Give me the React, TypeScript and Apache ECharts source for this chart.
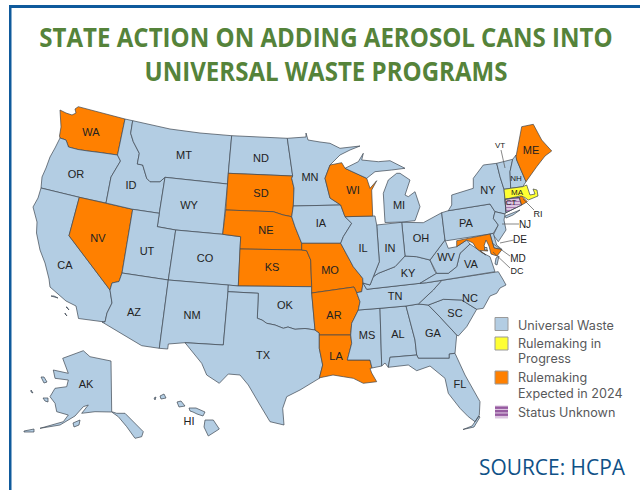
import React, { useEffect, useRef } from "react";
import * as echarts from "echarts";

const titleLines = ["STATE ACTION ON ADDING AEROSOL CANS INTO", "UNIVERSAL WASTE PROGRAMS"];
const source = "SOURCE: HCPA";
const universalWaste = ["OR","CA","ID","MT","WY","UT","CO","AZ","NM","ND","OK","TX","MN","IA","MS","AL","GA","SC","NC","FL","TN","KY","VA","WV","OH","IN","IL","MI","PA","NY","VT","NH","NJ","DE","DC","AK","HI"];
const rulemakingInProgress = ["MA"];
const rulemakingExpected = ["WA","NV","SD","NE","KS","MO","AR","LA","WI","ME","MD","RI"];
const statusUnknown = ["CT"];
const legendNames = ["Universal Waste", "Rulemaking in\nProgress", "Rulemaking\nExpected in 2024", "Status Unknown"];

const shapes: Record<string, number[][][]> = {
  WA: [[[60,110],[66,113],[72,115],[76,113],[75,109],[78.3,106.7],[125,119],[117.5,155],[100,152.5],[88,151],[78,149.5],[68.5,147],[66,140],[60,138],[59.5,136],[61,127]]],
  OR: [[[60,138],[66,140],[68.5,147],[78,149.5],[88,151],[100,152.5],[117.5,155],[120.5,161],[111,177],[106,203],[79.3,197.3],[41,188],[42,177],[46,168],[50,157],[55,148]]],
  CA: [[[41,188],[79.3,197.3],[69,235.7],[110,290],[112,303],[107,313],[105,322],[78.5,318.5],[76,306],[70,303],[66,301],[58,294],[50,287],[49,279],[45,263],[40,250],[36.5,233],[37,222],[33,207],[38,198]],[[51,296],[58,298],[54,296]],[[66,307],[69,310],[67,307]],[[65,313],[67,316],[65,314]]],
  NV: [[[79.3,197.3],[132.7,209.3],[122,273],[119,281.5],[112,283],[110,290],[69,235.7]]],
  ID: [[[125,119],[132.7,120.7],[130.7,133.3],[133.3,141.7],[139.3,153.3],[137.3,164],[142.7,165],[146.7,178.3],[150,181.7],[160,181.7],[165,177.3],[159.3,213.3],[132.7,209.3],[106,203],[111,177],[120.5,161],[117.5,155]]],
  MT: [[[132.7,120.7],[170,129],[200,133],[231.7,135.7],[228.3,173.3],[227.5,184],[165,177.3],[160,181.7],[150,181.7],[146.7,178.3],[142.7,165],[137.3,164],[139.3,153.3],[133.3,141.7],[130.7,133.3]]],
  WY: [[[165,177.3],[227.5,184],[222.7,234.3],[175.7,230],[157.3,226.7],[159.3,213.3]]],
  UT: [[[132.7,209.3],[159.3,213.3],[157.3,226.7],[175.7,230],[168.3,280],[122,273]]],
  CO: [[[175.7,230],[222.7,234.3],[240.7,236.7],[238.3,286],[168.3,280]]],
  AZ: [[[122,273],[168.3,280],[159.3,348.3],[141.7,345.7],[102,322],[105,322],[107,313],[112,303],[110,290],[112,283],[119,281.5]]],
  NM: [[[168.3,280],[228.3,285],[228,291.7],[223.3,345],[185,342.7],[168.3,344],[167.7,349],[159.3,348.3]]],
  ND: [[[231.7,135.7],[287.3,138.3],[292.7,176],[228.3,173.3]]],
  SD: [[[228.3,173.3],[292.7,176],[291.7,178.3],[294,188],[293.3,206],[291.7,216.7],[283.3,215],[273.3,211.7],[225.7,210]]],
  NE: [[[225.7,210],[273.3,211.7],[283.3,215],[291.7,216.7],[295,226.7],[301.7,243.3],[301.7,250],[240,249],[240.7,236.7],[222.7,234.3]]],
  KS: [[[240,249],[301.7,250],[306.7,250.7],[310.7,260],[311.7,286.7],[238.3,286]]],
  OK: [[[228.3,285],[238.3,286],[311.7,286.7],[311.7,293],[315,330],[305,328.5],[295,329.3],[288,327],[283.3,328.3],[275,325],[266.7,323.3],[262,320],[257.3,318.3],[258.3,293.3],[228,291.7]]],
  TX: [[[228,291.7],[258.3,293.3],[257.3,318.3],[262,320],[266.7,323.3],[275,325],[283.3,328.3],[288,327],[295,329.3],[305,328.5],[315,330],[319.3,333],[319.3,348.3],[322.7,365],[319.3,378.3],[300,390],[286.7,396.7],[282.7,408.3],[284,425],[270,421.7],[260,405],[248.3,385],[240,375],[228.3,374],[219.3,383.3],[206.7,375],[201.7,363.3],[185,342.7],[223.3,345]]],
  MN: [[[287.3,138.3],[306,137],[306,133],[308,140],[320,142],[330,143.3],[340,148.3],[360,146],[350,150],[340,155],[330,165],[325,178.3],[330,198],[340.7,205],[293.3,206],[294,188],[291.7,178.3],[292.7,176]]],
  IA: [[[293.3,206],[340.7,205],[345,216.7],[351.7,223.3],[343.3,236.7],[340.7,243.3],[301.7,243.3],[295,226.7],[291.7,216.7]]],
  MO: [[[301.7,243.3],[340.7,243.3],[353.3,266.7],[362.7,278.3],[363,283],[361.7,291.7],[356.7,292.7],[354,287],[311.7,293],[311.7,286.7],[310.7,260],[306.7,250.7],[301.7,250]]],
  AR: [[[311.7,293],[354,287],[356.7,292.7],[360,301.7],[358.3,310],[351.7,323.3],[350.7,335],[319.3,335],[319.3,333],[315,330]]],
  LA: [[[319.3,335],[350.7,335],[351.7,343.3],[347.3,360],[370,360],[372,368],[370,368.5],[371.7,373],[376.7,381.7],[363.3,383.3],[353.3,378.3],[343.3,376.7],[333,375],[320,377.7],[319.3,378.3],[322.7,365],[319.3,348.3]]],
  MS: [[[358.3,310],[380,308.3],[381.7,366],[372,368],[370,360],[347.3,360],[351.7,343.3],[350.7,335],[351.7,323.3]]],
  AL: [[[380,308.3],[406,306],[415,340],[416.7,355],[390,357.3],[388.3,367.3],[385,363],[381.7,366]]],
  GA: [[[406,306],[418.3,304],[428.3,305],[440,317],[456.7,335],[455,353.3],[449.3,354],[449.3,358.3],[418.3,358.3],[416.7,355],[415,340]]],
  SC: [[[428.3,305],[443.3,299.3],[461.7,300],[476.7,309.3],[466.7,326.7],[458.3,336],[456.7,335],[440,317]]],
  NC: [[[441.7,280.4],[498.3,271.7],[503.3,280],[506,285],[500,288],[496.7,293.3],[490,296],[483.3,308.3],[476.7,309.3],[461.7,300],[443.3,299.3],[428.3,305],[418.3,304],[433.3,290]]],
  TN: [[[366.7,289.3],[420,283.3],[426.7,282.7],[441.7,280.4],[433.3,290],[418.3,304],[406,306],[380,308.3],[358.3,310],[360,301.7],[356.7,292.7],[361.7,291.7],[363,283]]],
  FL: [[[390,357.3],[416.7,355],[418.3,358.3],[449.3,358.3],[449.3,354],[455,353.3],[465,375],[480,401.7],[479.3,415],[475,421.7],[468.3,416.7],[460,408.3],[448.3,393.3],[445,378.3],[430,366],[416.7,370.7],[408.3,365],[388.3,367.3]],[[463,429.5],[472,426],[479,416],[480,417],[474,427]]],
  KY: [[[405,256],[416.7,256.7],[430,260],[435,271.7],[436.7,273.3],[420,283.3],[366.7,289.3],[363,283],[370,285],[373.3,276.7],[378.3,273.3],[395,266.7]]],
  VA: [[[436.7,273.3],[448.3,273.3],[456.7,266.7],[460,253.3],[470,244],[483.3,253.3],[490,256.7],[495,271.7],[426.7,282.7],[420,283.3]],[[496,258],[499,256],[497,265],[495,264]]],
  WV: [[[445,240],[448.3,248.3],[456.7,246.7],[466.7,240],[470,244],[460,253.3],[456.7,266.7],[448.3,273.3],[436.7,273.3],[430,260],[435,253.3]]],
  OH: [[[401.7,222.3],[423.3,222.7],[441.7,212.7],[445,240],[435,253.3],[430,260],[416.7,256.7],[405,256]]],
  IN: [[[376.7,225],[401.7,222.3],[405,256],[395,266.7],[378.3,273.3],[373.3,276.7],[379.3,261.7]]],
  IL: [[[345,216.7],[375,216],[376.7,225],[379.3,261.7],[373.3,276.7],[370,285],[363,283],[362.7,278.3],[353.3,266.7],[340.7,243.3],[343.3,236.7],[351.7,223.3]]],
  WI: [[[330,165],[341.7,162.7],[345,168.3],[366.7,178.3],[370,188.3],[376.7,180.7],[371.7,190],[372.7,216],[345,216.7],[340.7,205],[330,198],[325,178.3]]],
  MI: [[[345,168.3],[358.3,161.7],[363.3,153.3],[361.7,160],[378.3,161.7],[390,160.7],[405,168.3],[391.7,170],[375,171.7],[366.7,178.3]],[[396.7,173.3],[388.3,180],[383.3,193.3],[385,222.5],[401.7,222],[415,220.7],[420,206.7],[415,191.7],[408.3,196.7],[405,195],[410,180],[400,173.3]]],
  PA: [[[441.7,212.7],[448.3,210.7],[490,204],[495,211.7],[493.3,218.3],[498.3,225],[493.3,233.3],[490,234],[446.7,240.7],[445,240]]],
  NY: [[[448.3,210.7],[451.7,205],[451.7,195],[473.3,188.3],[473.3,178.3],[483.3,165],[496.7,163.3],[500,176.7],[504,189.3],[505,199.3],[506,212.7],[505,214],[495,211.7],[490,204]],[[505,216],[520,210],[513,215],[506,218]]],
  VT: [[[496.7,163.3],[512.7,159.3],[510,171.7],[510.7,188.3],[504,189.3],[500,176.7]]],
  NH: [[[512.7,159.3],[516,155],[516.7,160],[526,181.7],[522.7,186.7],[510.7,188.3],[510,171.7]]],
  ME: [[[516,156.7],[521.7,126.7],[533.3,124.3],[541.7,140],[551.7,151],[545,156],[536.7,166.7],[526,181.7],[516.7,160]]],
  MA: [[[504,189.3],[510.7,188.3],[522.7,186.7],[526.7,185],[530,195],[535,194],[533,189],[537,190],[538,196],[528.3,200],[524,197],[520,196],[505,199.3]]],
  CT: [[[505,199.3],[519.3,197.3],[521.7,205],[506,212.7]]],
  RI: [[[519.3,197.3],[521.7,196],[527.3,201.7],[521.7,205]]],
  NJ: [[[495,211.7],[505,214],[504,220],[506,230],[498.3,241.7],[493.3,235],[498.3,225],[493.3,218.3]]],
  DE: [[[493.3,233.3],[496.7,245],[502,249.5],[494,248],[490,234]]],
  MD: [[[456.7,240.7],[490,234],[494,248],[502,249.5],[497,256],[491,254],[489,246],[486,240],[484,246],[488,251],[480,250.5],[486,255],[481,252],[476,248],[473,243],[466.7,240],[456.7,246.7]]],
  DC: [[[484.5,247.5],[487,247.5],[487,250],[484.5,250]]],
  AK: [[[83.3,350.7],[90,356.7],[111,361],[111.7,411.7],[116.7,413.3],[125,413.3],[143.3,431.7],[141.7,436.7],[135,438.3],[126.7,426.7],[118.3,416.7],[111.7,412],[95,411.7],[81.7,413.3],[88.3,405],[83.3,406.7],[75,416],[60,425],[40,428.3],[63.3,421.7],[68.3,415],[56.7,411.7],[55,403.3],[50,396.7],[55,388.3],[66.7,386.7],[68.3,380],[55,378.3],[53.3,370],[68.3,373.3],[62.7,358.3]],[[41,377],[44,377],[47,382],[44,383]],[[31,390],[33,393],[31,392]],[[43,398],[48,398],[48,402],[45,401]],[[73,423],[80,420],[79,425],[74,427]],[[24,431],[34,429],[34,432],[24,432]]],
  HI: [[[160,396],[164,394],[166,398],[161,399]],[[154,398],[156,397],[155,400]],[[177,402],[181,401],[185,406],[179,407]],[[189,408],[196,408],[205,412],[203,416],[197,414],[193,412],[190,411]],[[205,420],[213.3,420],[219.3,429],[208.3,436],[204,427]]],
};

const labelAt: Record<string, [number, number, number?]> = {
  WA:[91,132],OR:[76,174],CA:[65,265],NV:[98,238],ID:[131,185],MT:[184,155],WY:[189,205],UT:[147,251],CO:[205,258],AZ:[134,312],NM:[192,315],ND:[261,158],SD:[261,193],NE:[266,230],KS:[272,267],OK:[285,305],TX:[263,355],MN:[310,177],IA:[321,223],MO:[330,270],AR:[334,315],LA:[336,356],MS:[367,335],AL:[398,334],GA:[433,333],SC:[455,313],NC:[470,298],FL:[460,384],TN:[395,296],KY:[408,273],VA:[471,264],WV:[446,257],OH:[421,238],IN:[390,248],IL:[363,248],MI:[399,205],WI:[353,190],PA:[466,223],NY:[488,190],ME:[531,150],NH:[516,178,8],MA:[517,192,8],CT:[511,202,8],VT:[500,145,8],RI:[538,214,9],NJ:[525,224,10],DE:[520,239,10],MD:[518,258,10],DC:[517,271,9],AK:[86,384],HI:[189,421],
};

const leaders = [[501,150,505,168],[534,210,523,199],[519,224,502,224],[514,240,500,243],[510,256,492,243],[510,268,493,252]];

const BLUE = "#b3cde3";
const YELLOW = "#ffff33";
const ORANGE = "#ff8000";
const LILAC = "#dcc6e0";
const PURPLE = "#a878b0";
const FRAME = "#0f5a9c";

function buildGeo() {
  return {
    type: "FeatureCollection",
    features: Object.keys(shapes).map((name) => ({
      type: "Feature",
      properties: { name, cp: labelAt[name].slice(0, 2) },
      geometry: { type: "MultiPolygon", coordinates: shapes[name].map((r) => [r]) },
    })),
  };
}

function bounds() {
  let a = 1e9, b = 1e9, c = -1e9, d = -1e9;
  Object.values(shapes).forEach((poly) => poly.forEach((ring) => ring.forEach(([x, y]) => {
    a = Math.min(a, x); b = Math.min(b, y); c = Math.max(c, x); d = Math.max(d, y);
  })));
  return { left: a, top: b, width: c - a, height: d - b };
}

function item(name: string, color: string, extra: object = {}) {
  const size = labelAt[name][2];
  return {
    name,
    value: 1,
    itemStyle: { areaColor: color, ...extra },
    label: size ? { fontSize: size } : undefined,
  };
}

export default function App() {
  const ref = useRef<HTMLDivElement>(null);
  useEffect(() => {
    if (!ref.current) return;
    echarts.registerMap("usStates", buildGeo() as any);
    const chart = echarts.init(ref.current, undefined, { renderer: "svg" });
    const b = bounds();
    const data = [
      ...universalWaste.map((n) => item(n, BLUE)),
      ...rulemakingInProgress.map((n) => item(n, YELLOW)),
      ...rulemakingExpected.map((n) => item(n, ORANGE)),
      ...statusUnknown.map((n) => item(n, LILAC, {
        decal: { symbol: "rect", dashArrayX: [1, 0], dashArrayY: [1, 2], color: PURPLE, rotation: 0 },
      })),
    ];
    const swatchY = [317.5, 337, 371, 405.5];
    const swatchColor = [BLUE, YELLOW, ORANGE];
    const legendTextY = [325, 351, 385.5, 412];
    const graphic: any[] = [
      { type: "rect", shape: { x: 9, y: 5, width: 631, height: 3 }, style: { fill: FRAME }, silent: true },
      { type: "rect", shape: { x: 9, y: 5, width: 2.5, height: 485 }, style: { fill: FRAME }, silent: true },
      ...titleLines.map((t, i) => ({
        type: "text", x: 326, y: i === 0 ? 37 : 71, scaleX: 0.908,
        style: { text: t, fill: "#55833a", font: "bold 26.5px 'Open Sans'", textAlign: "center", textVerticalAlign: "middle" },
      })),
      ...leaders.map((l) => ({
        type: "line", shape: { x1: l[0], y1: l[1], x2: l[2], y2: l[3] }, style: { stroke: "#555", lineWidth: 0.7 }, z: 10, silent: true,
      })),
      ...swatchColor.map((c, i) => ({
        type: "rect", shape: { x: 495, y: swatchY[i], width: 13, height: 13 }, style: { fill: c, stroke: "#9a9a9a", lineWidth: 1 },
      })),
      { type: "rect", shape: { x: 495, y: swatchY[3], width: 13, height: 13 }, style: { fill: LILAC } },
      ...[1, 4.5, 8].map((d) => ({ type: "rect", shape: { x: 495, y: swatchY[3] + d, width: 13, height: 2.4 }, style: { fill: "#965aa0" } })),
      ...legendNames.map((t, i) => ({
        type: "text", x: 518, y: legendTextY[i],
        style: { text: t, fill: "#58595b", font: "12.6px Inter", lineHeight: 15.5, textAlign: "left", textVerticalAlign: "middle" },
      })),
      { type: "text", x: 625, y: 466, scaleX: 0.93, style: { text: source, fill: "#0f5187", font: "22.5px 'Open Sans'", textAlign: "right", textVerticalAlign: "middle" } },
    ];
    chart.setOption({
      animation: false,
      backgroundColor: "#fff",
      series: [{
        type: "map",
        map: "usStates",
        projection: { project: (p: number[]) => p, unproject: (p: number[]) => p },
        left: b.left, top: b.top, width: b.width, height: b.height,
        roam: false,
        silent: true,
        selectedMode: false,
        itemStyle: { borderColor: "#3d4650", borderWidth: 0.7, areaColor: BLUE },
        label: { show: true, color: "#222", fontSize: 11, fontFamily: "Liberation Sans", formatter: "{b}" },
        emphasis: { disabled: true },
        data,
      }],
      graphic,
    });
    return () => chart.dispose();
  }, []);
  return <div ref={ref} style={{ position: "absolute", left: 0, top: 0, width: 640, height: 490 }} />;
}
